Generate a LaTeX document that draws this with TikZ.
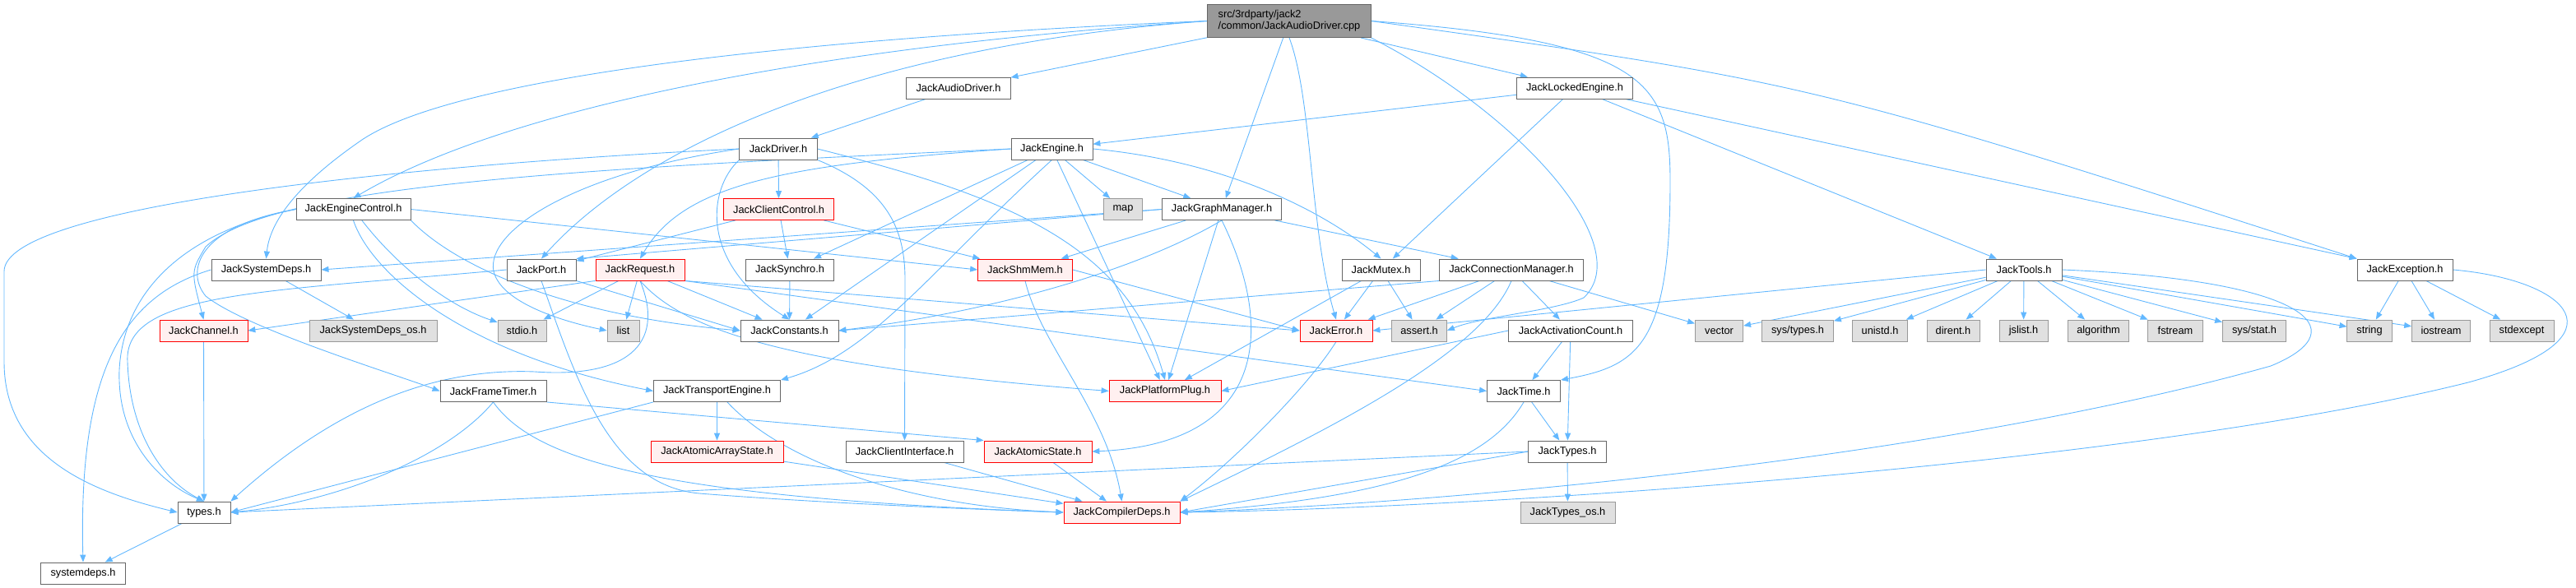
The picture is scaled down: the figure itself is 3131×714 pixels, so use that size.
\documentclass[tikz,border=0pt]{standalone}
\usepackage{fontspec}
\setmainfont{Liberation Sans}
\usetikzlibrary{arrows.meta,backgrounds}
\definecolor{edgeblue}{HTML}{63B8FF}
\definecolor{boxline}{HTML}{666666}
\definecolor{extline}{HTML}{999999}
\definecolor{extfill}{HTML}{E0E0E0}
\definecolor{redfill}{HTML}{FFF0F0}
\begin{document}
\begin{tikzpicture}[x=0.0275cm, y=-0.0275cm,
    box/.style={draw=boxline, fill=white, minimum height=0.715cm, inner sep=0pt, font=\fontsize{10}{11}\selectfont, text=black, line width=0.7pt},
    redbox/.style={box, draw=red, fill=redfill},
    extbox/.style={box, draw=extline, fill=extfill},
    srcbox/.style={box, fill=extline, minimum height=1.1cm, align=left},
    arr/.style={-{Triangle[length=7pt,width=5.5pt]}, line width=0.7pt, edgeblue},
]
\useasboundingbox (0,0) rectangle (3131,714);

% Source file
\node[srcbox, minimum width=5.45cm] (top) at (1567,25.5) {src/3rdparty/jack2\\/common/JackAudioDriver.cpp};

% Row 1
\node[box, minimum width=3.47cm] (audiodrv) at (1165,107) {JackAudioDriver.h};
\node[box, minimum width=3.88cm] (lockedeng) at (1914,107) {JackLockedEngine.h};

% Row 2
\node[box, minimum width=2.59cm] (driver) at (946,181) {JackDriver.h};
\node[box, minimum width=2.72cm] (engine) at (1278.5,181) {JackEngine.h};

% Row 3
\node[box, minimum width=3.82cm] (enginectl) at (429.5,254.5) {JackEngineControl.h};
\node[redbox, minimum width=3.69cm] (clientctl) at (946.6,254.5) {JackClientControl.h};
\node[extbox, minimum width=1.29cm] (map) at (1365,254.5) {map};
\node[box, minimum width=3.99cm] (graphmgr) at (1485,254.5) {JackGraphManager.h};

% Row 4
\node[box, minimum width=3.66cm] (sysdeps) at (323.5,328) {JackSystemDeps.h};
\node[box, minimum width=2.31cm] (port) at (658,328) {JackPort.h};
\node[redbox, minimum width=2.97cm] (request) at (778,328) {JackRequest.h};
\node[box, minimum width=2.94cm] (synchro) at (960,328) {JackSynchro.h};
\node[redbox, minimum width=3.16cm] (shmmem) at (1246,328) {JackShmMem.h};
\node[box, minimum width=2.61cm] (mutex) at (1678.5,328) {JackMutex.h};
\node[box, minimum width=4.79cm] (connmgr) at (1837,328) {JackConnectionManager.h};
\node[box, minimum width=2.53cm] (tools) at (2460,328) {JackTools.h};
\node[box, minimum width=3.19cm] (exception) at (2923,328) {JackException.h};

% Row 5
\node[redbox, minimum width=2.94cm] (channel) at (247.5,402) {JackChannel.h};
\node[extbox, minimum width=4.26cm] (sysdepsos) at (453.5,402) {JackSystemDeps\_os.h};
\node[extbox, minimum width=1.62cm] (stdio) at (634.5,402) {stdio.h};
\node[extbox, minimum width=1.07cm] (list) at (757.5,402) {list};
\node[box, minimum width=3.27cm] (constants) at (959.5,402) {JackConstants.h};
\node[redbox, minimum width=2.42cm] (error) at (1624,402) {JackError.h};
\node[extbox, minimum width=1.84cm] (assert) at (1725,402) {assert.h};
\node[box, minimum width=4.15cm] (actcount) at (1909,402) {JackActivationCount.h};
\node[extbox, minimum width=1.60cm] (vector) at (2089.5,402) {vector};
\node[extbox, minimum width=2.39cm] (systypes) at (2185,402) {sys/types.h};
\node[extbox, minimum width=1.84cm] (unistd) at (2285,402) {unistd.h};
\node[extbox, minimum width=1.76cm] (dirent) at (2374,402) {dirent.h};
\node[extbox, minimum width=1.62cm] (jslist) at (2459.5,402) {jslist.h};
\node[extbox, minimum width=2.04cm] (algorithm) at (2550.5,402) {algorithm};
\node[extbox, minimum width=1.82cm] (fstream) at (2644,402) {fstream};
\node[extbox, minimum width=2.12cm] (sysstat) at (2740,402) {sys/stat.h};
\node[extbox, minimum width=1.49cm] (string) at (2880,402) {string};
\node[extbox, minimum width=1.95cm] (iostream) at (2967,402) {iostream};
\node[extbox, minimum width=2.15cm] (stdexcept) at (3065,402) {stdexcept};

% Row 6
\node[box, minimum width=3.55cm] (frametimer) at (599.5,475.5) {JackFrameTimer.h};
\node[box, minimum width=4.24cm] (transport) at (871.5,475.5) {JackTransportEngine.h};
\node[redbox, minimum width=3.74cm] (platform) at (1416,475.5) {JackPlatformPlug.h};
\node[box, minimum width=2.45cm] (time) at (1852,475.5) {JackTime.h};

% Row 7
\node[redbox, minimum width=4.43cm] (atomicarr) at (871.5,549) {JackAtomicArrayState.h};
\node[box, minimum width=3.93cm] (clientif) at (1099.5,549) {JackClientInterface.h};
\node[redbox, minimum width=3.60cm] (atomic) at (1261.5,549) {JackAtomicState.h};
\node[box, minimum width=2.59cm] (jtypes) at (1905,549) {JackTypes.h};

% Row 8 and 9
\node[box, minimum width=1.76cm] (typesh) at (248,623) {types.h};
\node[redbox, minimum width=3.88cm] (compiler) at (1363.5,623) {JackCompilerDeps.h};
\node[extbox, minimum width=3.16cm] (typesos) at (1905.5,623) {JackTypes\_os.h};
\node[box, minimum width=2.81cm] (systemdeps) at (101,697) {systemdeps.h};

% Arrows
\begin{pgfonlayer}{background}
% source file
\draw[arr] (top.west) .. controls (1000,45) and (560,90) .. (440,170) .. controls (360,225) and (328,270) .. (sysdeps.north);
\draw[arr] (top.west) .. controls (950,60) and (600,140) .. (enginectl.north);
\draw[arr] (top.west) .. controls (1000,60) and (760,200) .. (port.north);
\draw[arr] (top) -- (audiodrv); \draw[arr] (top) -- (graphmgr);
\draw[arr] (top.south) .. controls (1595,120) and (1592,280) .. (error.north);
\draw[arr] (top.south east) .. controls (1850,140) and (1990,300) .. (1925,362) .. controls (1890,378) and (1800,385) .. (assert.east);
\draw[arr] (top) -- (lockedeng);
\draw[arr] (top.east) .. controls (2000,50) and (2030,100) .. (2030,220) .. controls (2030,420) and (1990,445) .. (time.north east);
\draw[arr] (top.east) .. controls (2200,100) .. (exception.north west);
\draw[arr] (audiodrv) -- (driver);
\draw[arr] (lockedeng) -- (engine); \draw[arr] (lockedeng) -- (mutex);
\draw[arr] (lockedeng) -- (tools); \draw[arr] (lockedeng) -- (exception.north west);

% JackDriver.h
\draw[arr] (driver) -- (clientctl);
\draw[arr] (driver.south west) .. controls (860,230) and (850,320) .. (constants.north);
\draw[arr] (driver.south east) .. controls (1080,230) and (1100,280) .. (1100,340) -- (clientif.north);
\draw[arr] (driver.east) .. controls (1230,240) and (1370,300) .. (platform.north);
\draw[arr] (driver.west) .. controls (500,200) and (5,250) .. (5,330) -- (5,440) .. controls (5,560) and (120,600) .. (typesh.west);
\draw[arr] (driver.west) .. controls (700,210) and (590,280) .. (600,330) .. controls (610,370) and (690,392) .. (list.west);

% JackEngine.h
\draw[arr] (engine) -- (map); \draw[arr] (engine) -- (graphmgr);
\draw[arr] (engine) -- (platform); \draw[arr] (engine) -- (synchro);
\draw[arr] (engine) -- (constants);
\draw[arr] (engine.south) .. controls (1130,330) and (1060,430) .. (transport.north east);
\draw[arr] (engine.east) .. controls (1480,195) and (1600,250) .. (mutex.north);
\draw[arr] (engine.west) .. controls (950,200) and (830,225) .. (request.north);
\draw[arr] (engine.west) .. controls (700,205) and (330,225) .. (250,300) .. controls (232,330) .. (channel.north);

% JackClientControl.h
\draw[arr] (clientctl) -- (synchro); \draw[arr] (clientctl) -- (shmmem);
\draw[arr] (clientctl) -- (port);

% JackEngineControl.h
\draw[arr] (enginectl.east) -- (shmmem.west);
\draw[arr] (enginectl) .. controls (480,320) and (540,370) .. (stdio);
\draw[arr] (enginectl.south east) .. controls (560,330) and (700,385) .. (constants.west);
\draw[arr] (enginectl.south) .. controls (450,330) and (560,430) .. (transport.west);
\draw[arr] (enginectl.west) .. controls (240,275) and (225,330) .. (250,360) .. controls (300,400) and (480,455) .. (frametimer.west);
\draw[arr] (enginectl.west) .. controls (230,280) and (150,350) .. (145,450) .. controls (142,540) and (200,590) .. (typesh.north);

% JackSystemDeps.h and JackPort.h
\draw[arr] (sysdeps) -- (sysdepsos);
\draw[arr] (sysdeps.west) .. controls (150,360) and (95,450) .. (systemdeps.north);
\draw[arr] (port.south east) -- (constants.west);
\draw[arr] (port.south) .. controls (700,460) and (740,590) .. (850,600) .. controls (1000,612) and (1200,620) .. (compiler.west);
\draw[arr] (port.west) .. controls (320,355) and (150,355) .. (155,440) .. controls (158,530) and (200,585) .. (typesh.north);

% JackRequest.h
\draw[arr] (request.south west) -- (channel.east);
\draw[arr] (request) -- (stdio); \draw[arr] (request) -- (list);
\draw[arr] (request) -- (constants);
\draw[arr] (request.south east) -- (error.west);
\draw[arr] (request.south east) -- (time.west);
\draw[arr] (request.south) .. controls (830,400) and (950,445) .. (platform.west);
\draw[arr] (request.south) .. controls (810,420) and (760,460) .. (650,452) .. controls (500,446) and (380,520) .. (typesh.north east);

% JackSynchro.h, JackShmMem.h, JackGraphManager.h
\draw[arr] (synchro) -- (constants);
\draw[arr] (shmmem.east) -- (error.west);
\draw[arr] (shmmem.south) .. controls (1265,420) and (1345,500) .. (compiler.north);
\draw[arr] (graphmgr) -- (shmmem); \draw[arr] (graphmgr) -- (platform);
\draw[arr] (graphmgr) -- (connmgr);
\draw[arr] (graphmgr.south) .. controls (1550,400) and (1540,540) .. (atomic.east);
\draw[arr] (graphmgr.south) .. controls (1380,330) and (1200,380) .. (constants.east);
\draw[arr] (graphmgr.west) -- (port.north east);
\draw[arr] (graphmgr.west) -- (sysdeps.east);

% JackMutex.h, JackConnectionManager.h, JackError.h
\draw[arr] (mutex) -- (error); \draw[arr] (mutex) -- (assert);
\draw[arr] (mutex) -- (platform);
\draw[arr] (connmgr) -- (error); \draw[arr] (connmgr) -- (assert);
\draw[arr] (connmgr) -- (actcount); \draw[arr] (connmgr) -- (vector);
\draw[arr] (connmgr.south west) -- (constants.east);
\draw[arr] (connmgr.south) .. controls (1800,430) and (1620,520) .. (compiler.north east);
\draw[arr] (error.south) .. controls (1590,470) and (1500,560) .. (compiler.north east);

% JackActivationCount.h, JackTime.h, JackTypes.h
\draw[arr] (actcount) -- (time); \draw[arr] (actcount) -- (jtypes);
\draw[arr] (actcount.west) -- (platform.east);
\draw[arr] (time) -- (jtypes);
\draw[arr] (time.south) .. controls (1810,560) and (1700,605) .. (compiler.east);
\draw[arr] (jtypes) -- (typesos);
\draw[arr] (jtypes.west) -- (typesh.east);
\draw[arr] (jtypes.west) -- (compiler.east);

% JackTools.h
\draw[arr] (tools.west) -- (error.east);
\draw[arr] (tools) -- (vector); \draw[arr] (tools) -- (systypes);
\draw[arr] (tools) -- (unistd); \draw[arr] (tools) -- (dirent);
\draw[arr] (tools) -- (jslist); \draw[arr] (tools) -- (algorithm);
\draw[arr] (tools) -- (fstream); \draw[arr] (tools) -- (sysstat);
\draw[arr] (tools) -- (string); \draw[arr] (tools) -- (iostream);
\draw[arr] (tools.east) .. controls (2800,340) and (2870,400) .. (2760,445) .. controls (2350,560) and (1750,612) .. (compiler.east);

% JackException.h
\draw[arr] (exception) -- (string); \draw[arr] (exception) -- (iostream);
\draw[arr] (exception) -- (stdexcept);
\draw[arr] (exception.east) .. controls (3120,340) and (3200,410) .. (3000,465) .. controls (2600,565) and (1800,618) .. (compiler.east);

% lower headers
\draw[arr] (channel) -- (typesh);
\draw[arr] (typesh) -- (systemdeps);
\draw[arr] (frametimer.south) .. controls (540,560) and (400,612) .. (typesh.east);
\draw[arr] (frametimer.south) .. controls (650,560) and (800,605) .. (compiler.west);
\draw[arr] (frametimer.south east) -- (atomic.north west);
\draw[arr] (transport) -- (atomicarr);
\draw[arr] (transport) .. controls (950,560) and (1100,615) .. (compiler.west);
\draw[arr] (transport.south west) -- (typesh.east);
\draw[arr] (atomicarr) -- (compiler); \draw[arr] (clientif) -- (compiler);
\draw[arr] (atomic) -- (compiler);
\end{pgfonlayer}
\end{tikzpicture}
\end{document}
